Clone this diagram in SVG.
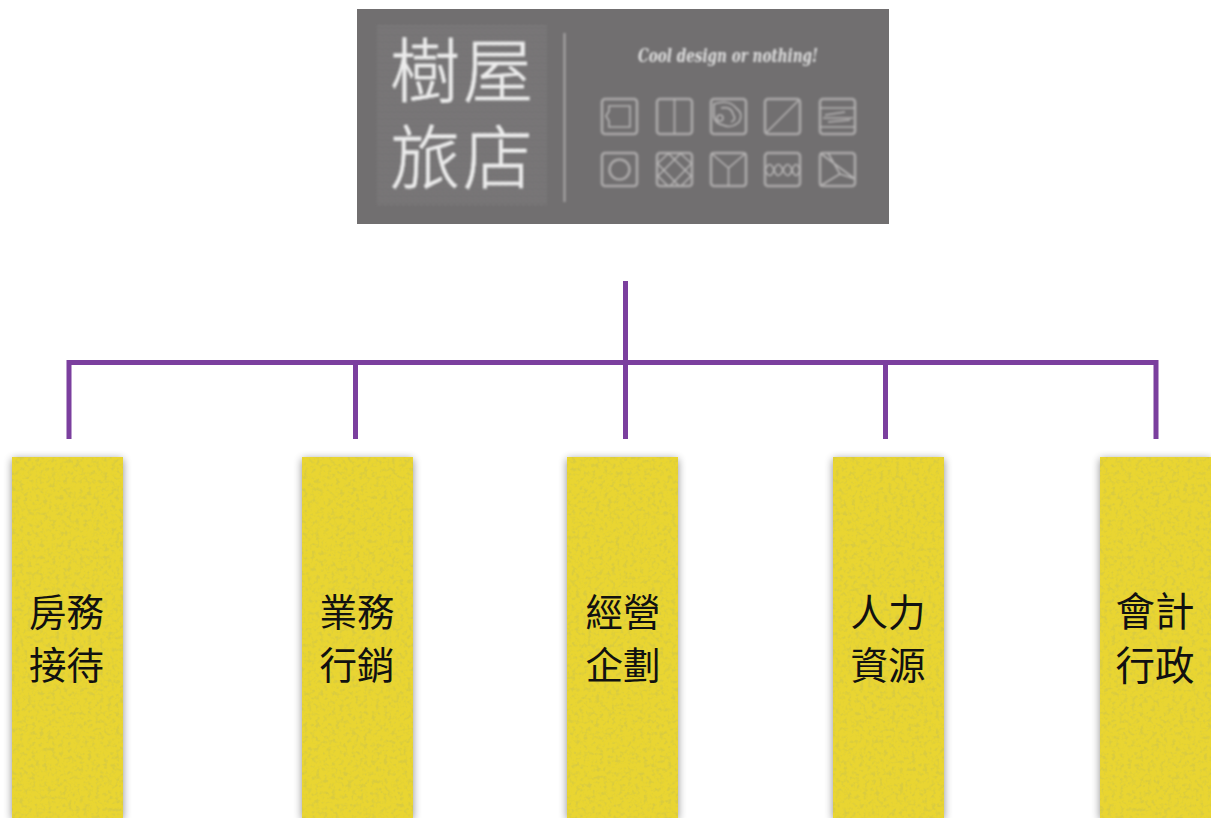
<svg xmlns="http://www.w3.org/2000/svg" width="1211" height="818" viewBox="0 0 1211 818">
<style>
.box{fill:#e9d530;filter:url(#paper)}
.lbl{font-family:"Noto Sans CJK TC","Noto Sans CJK SC",sans-serif;font-size:37.500px;fill:#111;text-anchor:middle}
.wide{font-size:39.500px}
.cn{stroke:#7b3f9e;stroke-width:5;fill:none}
.logo{font-family:"Noto Sans CJK TC",sans-serif;font-weight:300;font-size:70px;fill:#ececec;stroke:#ececec;stroke-width:0.500}
.ic{fill:none;stroke:#b5b3b3;stroke-width:1.600}
.fr{fill:none;stroke:#aaa8a8;stroke-width:2.600}
</style>
<defs>
<filter id="paper" x="-10%" y="-3%" width="120%" height="106%">
<feTurbulence type="fractalNoise" baseFrequency="0.25" numOctaves="3" seed="4" result="n"/>
<feColorMatrix in="n" type="matrix" values="0 0 0 0 0.70  0 0 0 0 0.60  0 0 0 0 0.05  3.500 0 0 0 -1.650" result="c"/>
<feComposite in="c" in2="SourceGraphic" operator="in" result="sp"/>
<feGaussianBlur in="SourceAlpha" stdDeviation="4.500" result="b"/>
<feOffset in="b" dx="0" dy="2" result="o"/>
<feComponentTransfer in="o" result="s"><feFuncA type="linear" slope="0.45"/></feComponentTransfer>
<feMerge><feMergeNode in="s"/><feMergeNode in="SourceGraphic"/><feMergeNode in="sp"/></feMerge>
</filter>
<filter id="soft"><feGaussianBlur stdDeviation="0.8"/></filter>
<pattern id="wave" width="6" height="3.500" patternUnits="userSpaceOnUse"><path d="M0 1.750q1.500-1.200 3 0t3 0" fill="none" stroke="#848283" stroke-width="1"/></pattern>
</defs>
<g id="logo">
<rect x="357" y="9" width="532" height="215" fill="#716f70"/>
<g filter="url(#soft)">
<rect x="377" y="25" width="170" height="180" fill="url(#wave)"/>
<text class="logo" x="390" y="97">樹</text>
<text class="logo" x="463" y="97">屋</text>
<text class="logo" x="390" y="184">旅</text>
<text class="logo" x="463" y="184">店</text>
<line x1="564.500" y1="33" x2="564.500" y2="202" stroke="#a9a7a7" stroke-width="2"/>
<text x="728" y="62" font-family="DejaVu Serif,serif" font-style="italic" font-weight="bold" font-size="18" fill="#dedede" text-anchor="middle" textLength="180" lengthAdjust="spacingAndGlyphs">Cool design or nothing!</text>
<rect class="fr" x="602" y="99" width="35" height="35" rx="3"/><path class="ic" d="M609 106h21v21h-21v-6l-3-5 3-5z"/>
<rect class="fr" x="657" y="99" width="35" height="35" rx="3"/><path class="ic" d="M674.500 99v35"/>
<rect class="fr" x="711" y="99" width="35" height="35" rx="3"/><path class="ic" d="M714 104q15-5 22 4 8 6 3 14-8 7-16 3-10-2-9-12zM721 108q10-2 12 6 4 6-2 8M717 118a3 3 0 1 0 6 0a3 3 0 1 0-6 0"/>
<rect class="fr" x="765" y="99" width="35" height="35" rx="3"/><path class="ic" d="M766 133l33-33"/>
<rect class="fr" x="820" y="99" width="35" height="35" rx="3"/><path class="ic" d="M820 108h35M820 127h35M825 115l20-3M823 118h30M828 122l22-2"/>
<rect class="fr" x="602" y="153" width="35" height="33" rx="3"/><circle class="fr" cx="619.500" cy="169.500" r="10"/>
<rect class="fr" x="657" y="153" width="35" height="33" rx="3"/><path class="ic" d="M657 163l22 23M657 175l11 11M668 153l24 24M680 153l12 11M692 163l-22 23M692 175l-11 11M681 153l-24 24M669 153l-12 11"/>
<rect class="fr" x="711" y="153" width="35" height="33" rx="3"/><path class="ic" d="M711 153l17.500 15 17.500-15M728.500 168v18"/>
<rect class="fr" x="765" y="153" width="35" height="33" rx="3"/><path class="ic" d="M765 170q5-11 9 0t9 0 9 0 8 0M765 170q5 11 9 0t9 0 9 0 8 0"/>
<rect class="fr" x="820" y="153" width="35" height="33" rx="3"/><path class="ic" d="M820 153l35 26M828 153l12 21-20 12M840 174l15 5"/>
</g>
</g>
<g id="connectors" class="cn">
<path class="cn" d="M625.500 281V439"/>
<path class="cn" d="M69 439V362.500H1156V439"/>
<path class="cn" d="M355.500 362.500V439"/>
<path class="cn" d="M885.500 362.500V439"/>
</g>
<g id="node1"><rect class="box" x="12" y="457" width="111" height="361"/><text class="lbl" x="66.500" y="626">房務</text><text class="lbl" x="66.500" y="679">接待</text></g>
<g id="node2"><rect class="box" x="302" y="457" width="111" height="361"/><text class="lbl" x="357" y="626">業務</text><text class="lbl" x="357" y="679">行銷</text></g>
<g id="node3"><rect class="box" x="567" y="457" width="111" height="361"/><text class="lbl" x="623" y="626">經營</text><text class="lbl" x="623" y="679">企劃</text></g>
<g id="node4"><rect class="box" x="833" y="457" width="111" height="361"/><text class="lbl" x="888" y="626">人力</text><text class="lbl" x="888" y="679">資源</text></g>
<g id="node5"><rect class="box" x="1100" y="457" width="111" height="361"/><text class="lbl wide" x="1155" y="626">會計</text><text class="lbl wide" x="1155" y="680">行政</text></g>
</svg>
